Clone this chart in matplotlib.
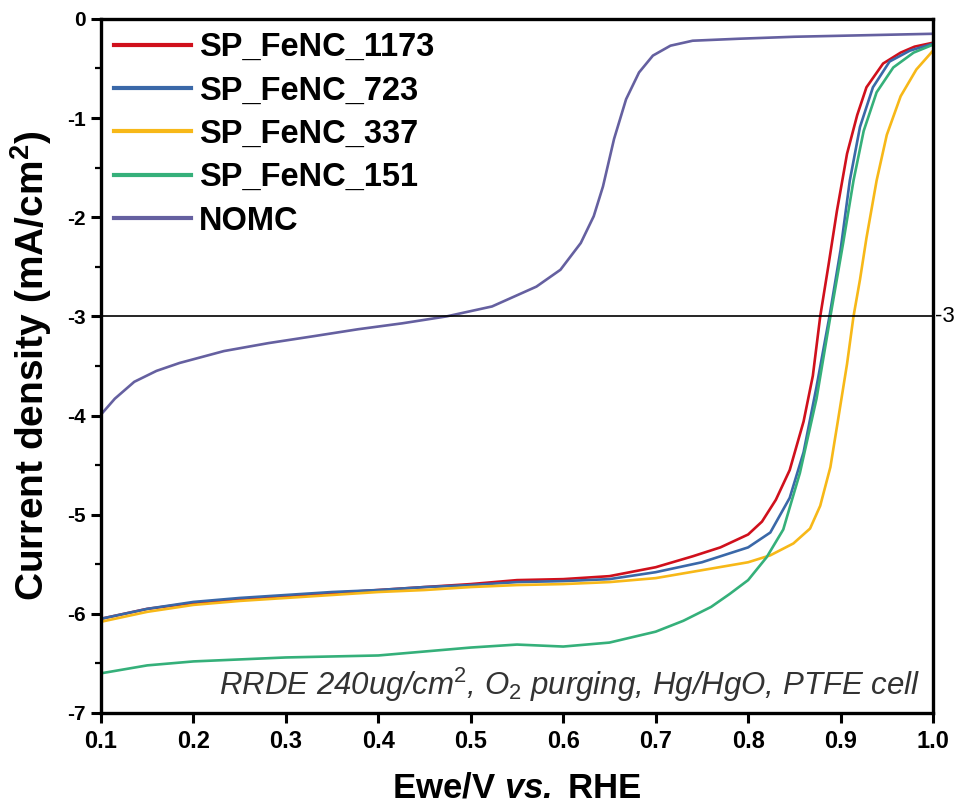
import matplotlib
matplotlib.use("Agg")
import matplotlib.pyplot as plt
from matplotlib.ticker import MultipleLocator, FormatStrFormatter

plt.rcParams['font.family'] = ['Liberation Sans', 'DejaVu Sans']
plt.rcParams['mathtext.fontset'] = 'custom'
plt.rcParams['mathtext.rm'] = 'Liberation Sans'
plt.rcParams['mathtext.it'] = 'Liberation Sans:italic'
plt.rcParams['mathtext.bf'] = 'Liberation Sans:bold'
plt.rcParams['mathtext.bfit'] = 'Liberation Sans:italic:bold'

# SP_FeNC_1173
x_1173 = [0.1, 0.15, 0.2, 0.25, 0.3, 0.35, 0.4, 0.45, 0.5, 0.55, 0.6, 0.65, 0.7, 0.74, 0.77, 0.8,
          0.815, 0.83, 0.845, 0.86, 0.87, 0.878, 0.887, 0.896, 0.907, 0.918, 0.928, 0.946, 0.965, 0.98, 1.0]
y_1173 = [-6.05, -5.95, -5.89, -5.85, -5.82, -5.79, -5.76, -5.73, -5.70, -5.66, -5.65, -5.62, -5.53, -5.42,
          -5.33, -5.2, -5.07, -4.85, -4.55, -4.06, -3.6, -3.0, -2.48, -1.94, -1.36, -0.97, -0.69, -0.45,
          -0.34, -0.28, -0.24]

# SP_FeNC_723
x_723 = [0.1, 0.15, 0.2, 0.25, 0.3, 0.35, 0.4, 0.45, 0.5, 0.55, 0.6, 0.65, 0.7, 0.75, 0.8,
         0.824, 0.845, 0.86, 0.874, 0.888, 0.9, 0.91, 0.921, 0.935, 0.953, 0.975, 1.0]
y_723 = [-6.05, -5.95, -5.88, -5.84, -5.81, -5.78, -5.76, -5.73, -5.71, -5.68, -5.67, -5.65, -5.58,
         -5.48, -5.33, -5.18, -4.83, -4.37, -3.71, -3.0, -2.33, -1.63, -1.09, -0.69, -0.43, -0.32, -0.25]

# SP_FeNC_337
x_337 = [0.1, 0.15, 0.2, 0.25, 0.3, 0.35, 0.4, 0.45, 0.5, 0.55, 0.6, 0.65, 0.7, 0.75, 0.8,
         0.824, 0.849, 0.867, 0.878, 0.889, 0.897, 0.907, 0.914, 0.921, 0.928, 0.939, 0.95, 0.965, 0.982, 1.0]
y_337 = [-6.08, -5.98, -5.91, -5.87, -5.84, -5.81, -5.78, -5.76, -5.73, -5.71, -5.70, -5.68, -5.64,
         -5.56, -5.48, -5.41, -5.29, -5.14, -4.91, -4.52, -4.06, -3.48, -3.0, -2.63, -2.21, -1.63,
         -1.17, -0.78, -0.51, -0.32]

# SP_FeNC_151
x_151 = [0.1, 0.15, 0.2, 0.25, 0.3, 0.35, 0.4, 0.45, 0.5, 0.55, 0.6, 0.65, 0.7, 0.73, 0.76, 0.78,
         0.8, 0.82, 0.838, 0.856, 0.874, 0.889, 0.903, 0.914, 0.925, 0.939, 0.957, 0.979, 1.0]
y_151 = [-6.6, -6.52, -6.48, -6.46, -6.44, -6.43, -6.42, -6.38, -6.34, -6.31, -6.33, -6.29, -6.18,
         -6.07, -5.93, -5.8, -5.66, -5.43, -5.15, -4.58, -3.83, -3.0, -2.25, -1.63, -1.13, -0.74,
         -0.49, -0.34, -0.26]

# NOMC
x_nomc = [0.1, 0.115, 0.136, 0.16, 0.185, 0.233, 0.281, 0.33, 0.378, 0.426, 0.474, 0.523, 0.571, 0.597,
          0.619, 0.633, 0.643, 0.655, 0.668, 0.682, 0.697, 0.716, 0.74, 0.79, 0.85, 0.9, 0.95, 1.0]
y_nomc = [-3.99, -3.83, -3.66, -3.55, -3.47, -3.35, -3.27, -3.2, -3.13, -3.07, -3.0, -2.9, -2.7, -2.53,
          -2.26, -1.99, -1.69, -1.21, -0.81, -0.54, -0.37, -0.27, -0.22, -0.2, -0.18, -0.17, -0.16, -0.15]

series = [
    ('SP_FeNC_1173', x_1173, y_1173, '#d0101c'),
    ('SP_FeNC_723', x_723, y_723, '#3a68a8'),
    ('SP_FeNC_337', x_337, y_337, '#f7b818'),
    ('SP_FeNC_151', x_151, y_151, '#35b07a'),
    ('NOMC', x_nomc, y_nomc, '#6560a0'),
]

fig = plt.figure(figsize=(9.59, 8.08), dpi=100)
ax = fig.add_axes([0.1053, 0.1176, 0.8676, 0.859])

for name, xs, ys, c in series:
    ax.plot(xs, ys, color=c, lw=1.9, label=name)

# reference line at -3 mA/cm2
ax.axhline(-3, color='black', lw=1.2)
ax.text(1.002, -3, '-3', transform=ax.get_yaxis_transform(), va='center', ha='left', fontsize=16)

ax.set_xlim(0.1, 1.0)
ax.set_ylim(-7, 0)
ax.xaxis.set_major_locator(MultipleLocator(0.1))
ax.yaxis.set_major_locator(MultipleLocator(1))
ax.yaxis.set_minor_locator(MultipleLocator(0.5))
ax.xaxis.set_major_formatter(FormatStrFormatter('%.1f'))
ax.yaxis.set_major_formatter(FormatStrFormatter('%d'))
ax.tick_params(axis='both', which='major', direction='out', length=7, width=2.2)
ax.tick_params(axis='x', labelsize=17, pad=5)
ax.tick_params(axis='y', labelsize=15, pad=4)
ax.tick_params(axis='y', which='minor', direction='out', length=4, width=1.6)
for lab in ax.get_xticklabels() + ax.get_yticklabels():
    lab.set_fontweight('bold')
for s in ax.spines.values():
    s.set_linewidth(2.4)

ax.set_xlabel(r'Ewe/V $\mathbfit{vs.}$ RHE', fontsize=25, fontweight='bold')
ax.xaxis.set_label_coords(0.5, -0.084)
ax.set_ylabel(r'Current density (mA/cm$^\mathbf{2}$)', fontsize=28, fontweight='bold')
ax.yaxis.set_label_coords(-0.057, 0.5)

ax.text(0.985, 0.026, r'RRDE 240ug/cm$^{2}$, O$_{2}$ purging, Hg/HgO, PTFE cell',
        transform=ax.transAxes, ha='right', va='baseline', fontsize=22.5, style='italic',
        color='#333333')

leg = ax.legend(loc='upper left', frameon=False, fontsize=23.5, handlelength=2.35,
                handletextpad=0.25, labelspacing=0.38, borderaxespad=0.1, borderpad=0.3)
for t in leg.get_texts():
    t.set_fontweight('bold')
for l in leg.get_lines():
    l.set_linewidth(3)

fig.savefig('out.png', dpi=100)
